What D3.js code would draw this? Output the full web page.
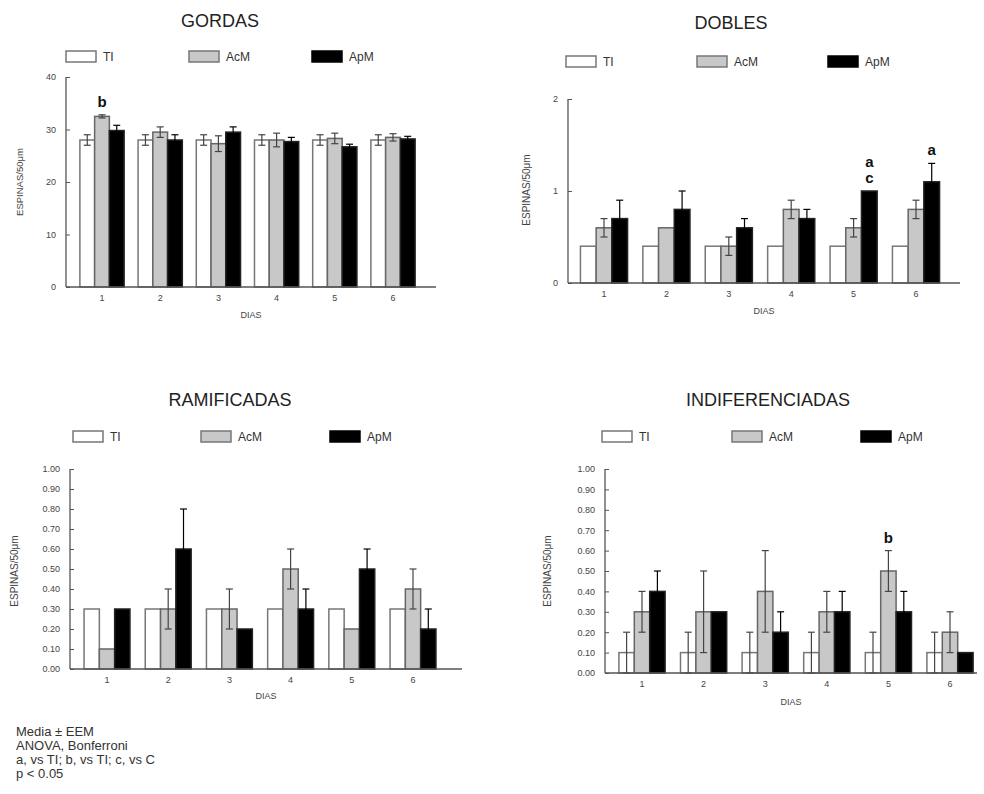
<!DOCTYPE html>
<html>
<head>
<meta charset="utf-8">
<script src="https://cdn.jsdelivr.net/npm/d3@7"></script>
<style>
body { margin: 0; background: #fff; }
text { font-family: Arial, "Liberation Sans", sans-serif; }
</style>
</head>
<body>
<div id="chart"></div>
<script>
let days = ["1", "2", "3", "4", "5", "6"];
let groups = ["TI", "AcM", "ApM"];

// GORDAS
let gordasTI = [28, 28, 28, 28, 28, 28];
let gordasAcM = [32.5, 29.5, 27.3, 28, 28.3, 28.5];
let gordasApM = [29.8, 28, 29.5, 27.7, 26.7, 28.2];
let gordasTIErr = [1, 1, 1, 1, 1, 1];
let gordasAcMErr = [0.3, 1, 1.5, 1.3, 1, 0.7];
let gordasApMErr = [1, 1, 1, 0.8, 0.5, 0.5];
let gordasTicks = [0, 10, 20, 30, 40];

// DOBLES
let doblesTI = [0.4, 0.4, 0.4, 0.4, 0.4, 0.4];
let doblesAcM = [0.6, 0.6, 0.4, 0.8, 0.6, 0.8];
let doblesApM = [0.7, 0.8, 0.6, 0.7, 1.0, 1.1];
let doblesTIErr = [0, 0, 0, 0, 0, 0];
let doblesAcMErr = [0.1, 0, 0.1, 0.1, 0.1, 0.1];
let doblesApMErr = [0.2, 0.2, 0.1, 0.1, 0, 0.2];
let doblesTicks = [0, 1, 2];

// RAMIFICADAS
let ramTI = [0.3, 0.3, 0.3, 0.3, 0.3, 0.3];
let ramAcM = [0.1, 0.3, 0.3, 0.5, 0.2, 0.4];
let ramApM = [0.3, 0.6, 0.2, 0.3, 0.5, 0.2];
let ramTIErr = [0, 0, 0, 0, 0, 0];
let ramAcMErr = [0, 0.1, 0.1, 0.1, 0, 0.1];
let ramApMErr = [0, 0.2, 0, 0.1, 0.1, 0.1];
let decTicks = [0, 0.1, 0.2, 0.3, 0.4, 0.5, 0.6, 0.7, 0.8, 0.9, 1.0];

// INDIFERENCIADAS
let indTI = [0.1, 0.1, 0.1, 0.1, 0.1, 0.1];
let indAcM = [0.3, 0.3, 0.4, 0.3, 0.5, 0.2];
let indApM = [0.4, 0.3, 0.2, 0.3, 0.3, 0.1];
let indTIErr = [0.1, 0.1, 0.1, 0.1, 0.1, 0.1];
let indAcMErr = [0.1, 0.2, 0.2, 0.1, 0.1, 0.1];
let indApMErr = [0.1, 0, 0.1, 0.1, 0.1, 0];

// significance letters
let gordasNotes = [{day: "1", group: "AcM", lines: ["b"]}];
let doblesNotes = [{day: "5", group: "ApM", lines: ["a", "c"]}, {day: "6", group: "ApM", lines: ["a"]}];
let ramNotes = [];
let indNotes = [{day: "5", group: "AcM", lines: ["b"]}];

let footnote = ["Media \u00b1 EEM", "ANOVA, Bonferroni", "a, vs TI; b, vs TI; c, vs C", "p < 0.05"];

let fills = {TI: "#fff", AcM: "#c8c8c8", ApM: "#000"};
let strokes = {TI: "#777", AcM: "#666", ApM: "#222"};

var svg = d3.select("#chart")
	.append("svg")
	.attr("width", 984)
	.attr("height", 794);

function drawPanel(p) {
	var g = svg.append("g");

	// title
	g.append("text")
		.attr("x", p.titleX)
		.attr("y", p.titleY)
		.attr("text-anchor", "middle")
		.style("font-size", "18px")
		.style("fill", "#222")
		.text(p.title);

	// legend
	var leg = g.selectAll(".leg")
		.data(groups)
		.enter().append("g")
		.attr("transform", function(d, i) { return "translate(" + p.legendX[i] + "," + p.legendY + ")"; });
	leg.append("rect")
		.attr("width", 30)
		.attr("height", 11)
		.style("fill", function(d) { return fills[d]; })
		.style("stroke", function(d) { return d == "ApM" ? "#000" : "#777"; })
		.style("stroke-width", 1.5);
	leg.append("text")
		.attr("x", 37)
		.attr("y", 10)
		.style("font-size", "12px")
		.style("fill", "#333")
		.text(function(d) { return d; });

	var y = d3.scaleLinear().domain(p.domain).range([p.bottom, p.top]);
	var step = (p.lastCenter - p.firstCenter) / (days.length - 1);
	var x = d3.scaleBand()
		.domain(days)
		.range([p.firstCenter - step / 2, p.lastCenter + step / 2])
		.paddingInner(p.pad)
		.paddingOuter(p.pad / 2);
	var xs = d3.scaleBand().domain(groups).range([0, x.bandwidth()]);

	// bars data
	var data = [];
	days.forEach(function(day, i) {
		groups.forEach(function(grp, j) {
			data.push({day: day, group: grp, value: p.means[j][i], err: p.errs[j][i]});
		});
	});

	g.selectAll(".bar")
		.data(data)
		.enter().append("rect")
		.attr("x", function(d) { return x(d.day) + xs(d.group); })
		.attr("y", function(d) { return y(d.value); })
		.attr("width", xs.bandwidth())
		.attr("height", function(d) { return y(0) - y(d.value); })
		.style("fill", function(d) { return fills[d.group]; })
		.style("stroke", function(d) { return strokes[d.group]; })
		.style("stroke-width", 1.5);

	// error bars
	var eb = g.selectAll(".err")
		.data(data.filter(function(d) { return d.err > 0; }))
		.enter().append("g")
		.style("stroke", function(d) { return d.group == "ApM" ? "#000" : "#444"; })
		.style("stroke-width", 1.2);
	eb.append("line")
		.attr("x1", function(d) { return x(d.day) + xs(d.group) + xs.bandwidth() / 2; })
		.attr("x2", function(d) { return x(d.day) + xs(d.group) + xs.bandwidth() / 2; })
		.attr("y1", function(d) { return y(d.value - d.err); })
		.attr("y2", function(d) { return y(d.value + d.err); });
	[-1, 1].forEach(function(s) {
		eb.append("line")
			.attr("x1", function(d) { return x(d.day) + xs(d.group) + xs.bandwidth() / 2 - 3.5; })
			.attr("x2", function(d) { return x(d.day) + xs(d.group) + xs.bandwidth() / 2 + 3.5; })
			.attr("y1", function(d) { return y(d.value + s * d.err); })
			.attr("y2", function(d) { return y(d.value + s * d.err); });
	});

	// significance letters
	p.notes.forEach(function(n) {
		var i = days.indexOf(n.day), j = groups.indexOf(n.group);
		var top = y(p.means[j][i] + p.errs[j][i]);
		var cx = x(n.day) + xs(n.group) + xs.bandwidth() / 2;
		n.lines.slice().reverse().forEach(function(t, k) {
			g.append("text")
				.attr("x", cx)
				.attr("y", top - 8 - k * 16)
				.attr("text-anchor", "middle")
				.style("font-size", "15px")
				.style("font-weight", "bold")
				.style("fill", "#111")
				.text(t);
		});
	});

	// y axis
	var yAxis = d3.axisLeft(y)
		.tickValues(p.ticks)
		.tickSize(-4)
		.tickPadding(10)
		.tickFormat(p.fmt);
	var ya = g.append("g")
		.attr("transform", "translate(" + p.left + ",0)")
		.call(yAxis);
	ya.select(".domain").remove();
	ya.selectAll(".tick line").style("stroke", "#555");
	ya.selectAll("text")
		.style("font-size", "9px")
		.style("fill", "#444")
		.style("font-family", "Arial, 'Liberation Sans', sans-serif");
	g.append("line")
		.attr("x1", p.left).attr("x2", p.left)
		.attr("y1", y(p.domain[0])).attr("y2", y(p.domain[1]))
		.style("stroke", "#555").style("stroke-width", 1.3);

	// x axis
	g.append("line")
		.attr("x1", p.left).attr("x2", p.right)
		.attr("y1", y(0)).attr("y2", y(0))
		.style("stroke", "#555").style("stroke-width", 1.5);
	g.selectAll(".xl")
		.data(days)
		.enter().append("text")
		.attr("x", function(d) { return x(d) + x.bandwidth() / 2; })
		.attr("y", y(0) + 14)
		.attr("text-anchor", "middle")
		.style("font-size", "9px")
		.style("fill", "#444")
		.text(function(d) { return d; });
	g.append("text")
		.attr("x", (p.left + p.right) / 2)
		.attr("y", y(0) + p.diasGap)
		.attr("text-anchor", "middle")
		.style("font-size", "9px")
		.style("fill", "#444")
		.text("DIAS");

	// y label
	g.append("text")
		.attr("transform", "translate(" + p.ylabX + "," + p.ylabY + ") rotate(-90)")
		.attr("text-anchor", "middle")
		.style("font-size", p.ylabSize)
		.style("fill", "#444")
		.text("ESPINAS/50\u03bcm");
}

drawPanel({
	title: "GORDAS", titleX: 220, titleY: 27,
	legendX: [66, 189, 312], legendY: 51,
	domain: [0, 40], ticks: gordasTicks, fmt: d3.format("d"),
	top: 77, bottom: 287, left: 66, right: 436,
	firstCenter: 102, lastCenter: 393, pad: 0.24,
	means: [gordasTI, gordasAcM, gordasApM],
	errs: [gordasTIErr, gordasAcMErr, gordasApMErr],
	notes: gordasNotes, diasGap: 31, ylabX: 23, ylabY: 182, ylabSize: "9.5px"
});

drawPanel({
	title: "DOBLES", titleX: 731, titleY: 29,
	legendX: [566, 697, 828], legendY: 56,
	domain: [0, 2], ticks: doblesTicks, fmt: d3.format("d"),
	top: 99, bottom: 283, left: 568, right: 960,
	firstCenter: 604, lastCenter: 916, pad: 0.245,
	means: [doblesTI, doblesAcM, doblesApM],
	errs: [doblesTIErr, doblesAcMErr, doblesApMErr],
	notes: doblesNotes, diasGap: 31, ylabX: 530, ylabY: 190, ylabSize: "10px"
});

drawPanel({
	title: "RAMIFICADAS", titleX: 230, titleY: 406,
	legendX: [73, 201, 330], legendY: 431,
	domain: [0, 1], ticks: decTicks, fmt: d3.format(".2f"),
	top: 469, bottom: 669, left: 70, right: 462,
	firstCenter: 107, lastCenter: 413, pad: 0.25,
	means: [ramTI, ramAcM, ramApM],
	errs: [ramTIErr, ramAcMErr, ramApMErr],
	notes: ramNotes, diasGap: 30, ylabX: 18, ylabY: 571, ylabSize: "10px"
});

drawPanel({
	title: "INDIFERENCIADAS", titleX: 768, titleY: 406,
	legendX: [602, 732, 861], legendY: 431,
	domain: [0, 1], ticks: decTicks, fmt: d3.format(".2f"),
	top: 469, bottom: 673, left: 605, right: 977,
	firstCenter: 642, lastCenter: 950, pad: 0.25,
	means: [indTI, indAcM, indApM],
	errs: [indTIErr, indAcMErr, indApMErr],
	notes: indNotes, diasGap: 32, ylabX: 551, ylabY: 571, ylabSize: "10px"
});

svg.selectAll(".foot")
	.data(footnote)
	.enter().append("text")
	.attr("x", 16)
	.attr("y", function(d, i) { return 736 + i * 14; })
	.style("font-size", "13px")
	.style("fill", "#333")
	.text(function(d) { return d; });
</script>
</body>
</html>
